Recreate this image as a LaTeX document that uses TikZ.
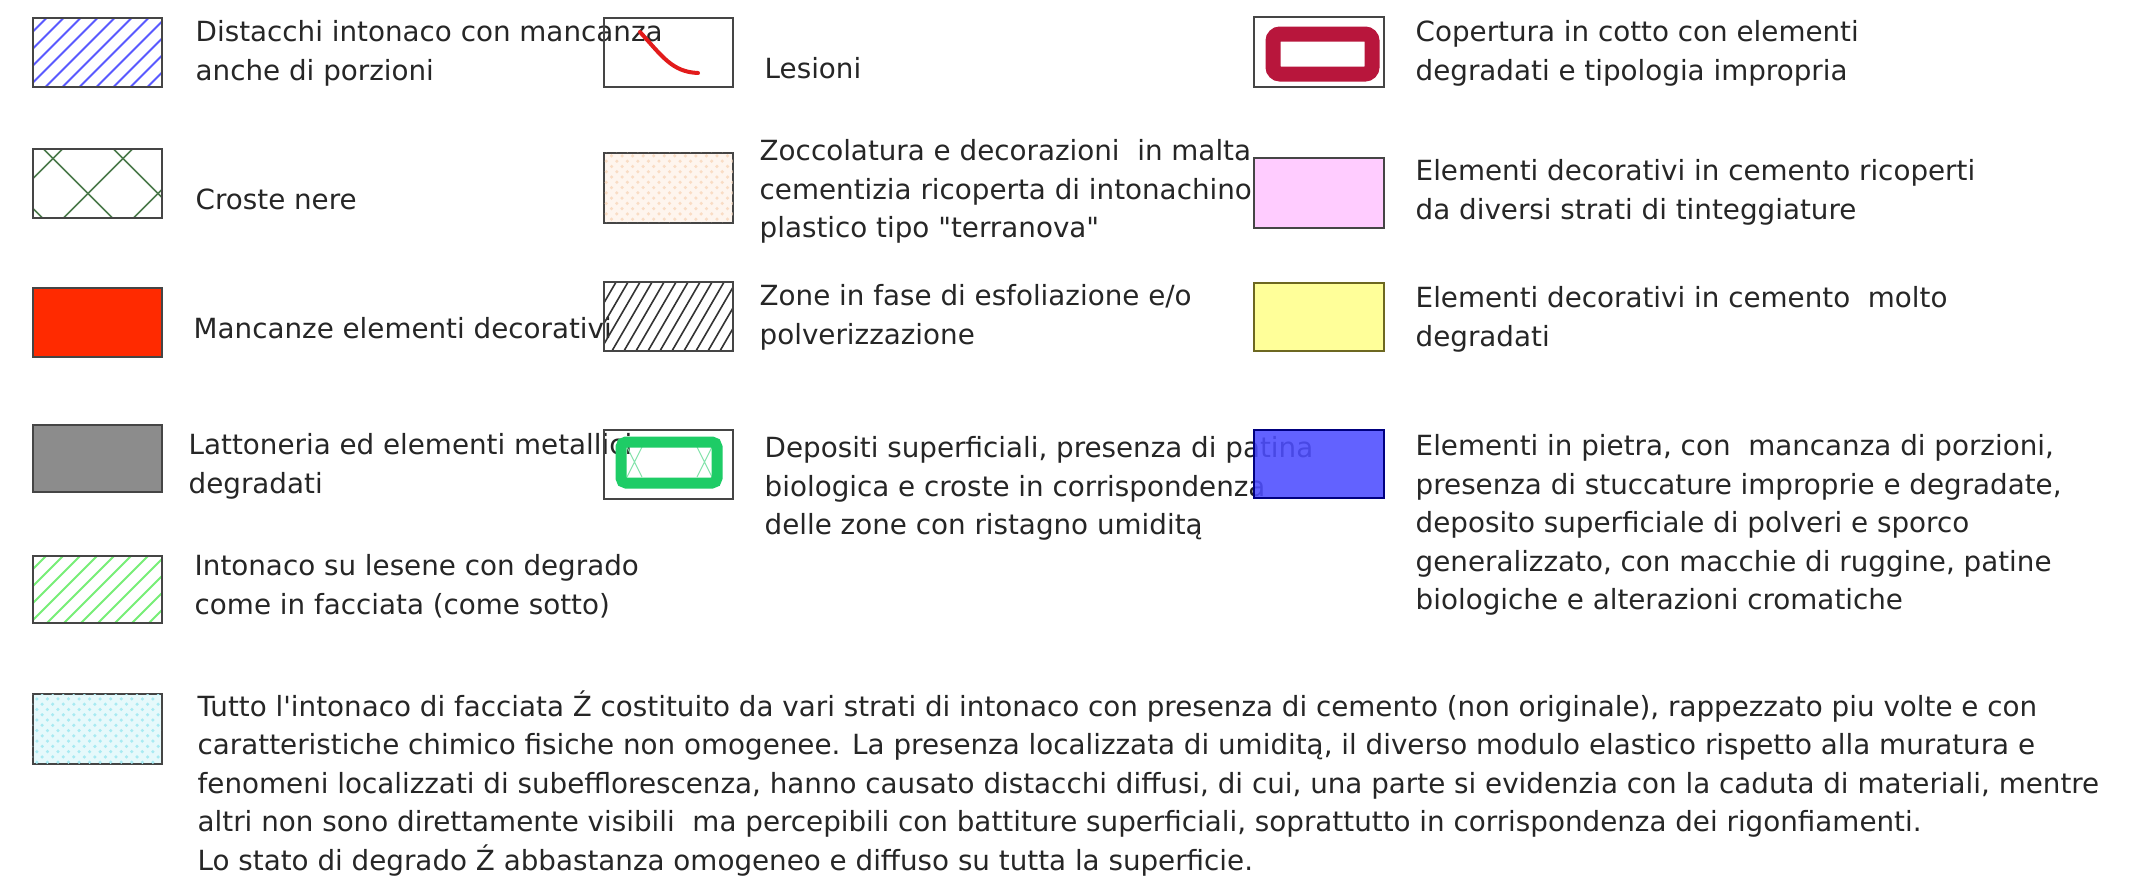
\documentclass[tikz,border=0pt]{standalone}
\usepackage{fontspec}
\setmainfont{DejaVu Sans}[Ligatures=TeXOff]
\usetikzlibrary{calc, patterns}

\definecolor{boxgray}{HTML}{454545}
\definecolor{hatchblue}{HTML}{5A5AFF}
\definecolor{crostegreen}{HTML}{4B7A4B}
\definecolor{missred}{HTML}{FF2A00}
\definecolor{metalgray}{HTML}{8C8C8C}
\definecolor{lesenegreen}{HTML}{77EE77}
\definecolor{facciatacyan}{HTML}{E6F9FB}
\definecolor{facciatadot}{HTML}{A8EAF2}
\definecolor{crackred}{HTML}{E21B1B}
\definecolor{malta}{HTML}{FEF5EE}
\definecolor{maltadot}{HTML}{F9DCC4}
\definecolor{biogreen}{HTML}{1ECC66}
\definecolor{cotto}{HTML}{B8163C}
\definecolor{tinteggio}{HTML}{FFCCFF}
\definecolor{cemento}{HTML}{FFFF99}
\definecolor{pietra}{HTML}{4D4DFF}

\begin{document}
\begin{tikzpicture}[
x = 0.1mm, y = -0.1mm, % one unit is one pixel of the sheet
every node/.style = {inner sep = 0pt},
font = \fontsize{7.9pt}{10.95pt}\selectfont
]
\tikzstyle{legbox}=[
draw = boxgray,
line width = 0.2mm,
minimum width = 12.9mm,
minimum height = 6.9mm
]
\tikzstyle{legtext}=[
anchor = north west, % placed at the top of the first line
align = left,
text = black!85
]
\tikzset{
hatch/.style 2 args = {path picture = {
  \foreach \k in {-7,...,7}
    \draw[#1, line width = 0.18mm]
      ($(path picture bounding box.center)+(\k*#2,0)+(-50,50)$) -- ++(100,-100);
}},
steephatch/.style 2 args = {path picture = {
  \foreach \k in {-9,...,9}
    \draw[#1, line width = 0.16mm]
      ($(path picture bounding box.center)+(\k*#2,0)+(-25,43)$) -- ++(50,-86);
}},
croste/.style = {path picture = {
  \foreach \q in {30,100,170}
    \draw[crostegreen, line width = 0.15mm]
      ($(path picture bounding box.north west)+(\q+10,-10)$) -- ++(-100,100);
  \foreach \q in {-60,10,80,150}
    \draw[crostegreen, line width = 0.15mm]
      ($(path picture bounding box.north west)+(\q-10,-10)$) -- ++(100,100);
}}
}

\useasboundingbox[fill = white] (0,0) rectangle (2138,894);

% labels first, the boxes of the middle and right column lie over them
\node[legtext] (t1) at (195,20) {Distacchi intonaco con mancanza\\anche di porzioni};
\node[legtext] (t2) at (195,188) {Croste nere};
\node[legtext] (t3) at (193,317) {Mancanze elementi decorativi};
\node[legtext] (t4) at (188,433) {Lattoneria ed elementi metallici\\degradati};
\node[legtext] (t5) at (194,554) {Intonaco su lesene con degrado\\come in facciata (come sotto)};
\node[legtext] (t6) at (197,690) {Tutto l'intonaco di facciata Ź costituito da vari strati di intonaco con presenza di cemento (non originale), rappezzato piu volte e con\\
caratteristiche chimico fisiche non omogenee. La presenza localizzata di umiditą, il diverso modulo elastico rispetto alla muratura e\\
fenomeni localizzati di subefflorescenza, hanno causato distacchi diffusi, di cui, una parte si evidenzia con la caduta di materiali, mentre\\
altri non sono direttamente visibili~ ma percepibili con battiture superficiali, soprattutto in corrispondenza dei rigonfiamenti.\\
Lo stato di degrado Ź abbastanza omogeneo e diffuso su tutta la superficie.};

\node[legtext] (u1) at (764,57) {Lesioni};
\node[legtext] (u2) at (759,139) {Zoccolatura e decorazioni~ in malta\\cementizia ricoperta di intonachino\\plastico tipo "terranova"};
\node[legtext] (u3) at (759,284) {Zone in fase di esfoliazione e/o\\polverizzazione};
\node[legtext] (u4) at (764,436) {Depositi superficiali, presenza di patina\\biologica e croste in corrispondenza\\delle zone con ristagno umiditą};

\node[legtext] (v1) at (1415,20) {Copertura in cotto con elementi\\degradati e tipologia impropria};
\node[legtext] (v2) at (1415,159) {Elementi decorativi in cemento ricoperti\\da diversi strati di tinteggiature};
\node[legtext] (v3) at (1415,286) {Elementi decorativi in cemento~ molto\\degradati};
\node[legtext] (v4) at (1415,434) {Elementi in pietra, con~ mancanza di porzioni,\\presenza di stuccature improprie e degradate,\\deposito superficiale di polveri e sporco\\generalizzato, con macchie di ruggine, patine\\biologiche e alterazioni cromatiche};

% left column
\node[legbox, fill = white, hatch = {hatchblue}{17}] (b1) at (97.5,52) {};
\node[legbox, fill = white, croste] (b2) at (97.5,183) {};
\node[legbox, fill = missred] (b3) at (97.5,322.5) {};
\node[legbox, fill = metalgray, minimum height = 6.7mm] (b4) at (97.5,458.5) {};
\node[legbox, fill = white, hatch = {lesenegreen}{17}, minimum height = 6.7mm] (b5) at (97.5,589.5) {};
\node[legbox, fill = facciatacyan, minimum height = 7mm,
  postaction = {pattern = crosshatch dots, pattern color = facciatadot}] (b6) at (97,729) {};

% middle column
\node[legbox] (c1) at (668,52) {};
\draw[crackred, line width = 0.4mm, line cap = round]
  (640,32) .. controls (662,56) and (672,72) .. (698,73);
\node[legbox, fill = malta, minimum height = 7mm,
  postaction = {pattern = crosshatch dots, pattern color = maltadot}] (c2) at (668,187.5) {};
\node[legbox, steephatch = {black!80}{12}] (c3) at (668,316.5) {};
\node[legbox] (c4) at (668,464) {};
\draw[biogreen!55, line width = 0.1mm] (627,447) -- (642,477) (627,477) -- (642,447)
  (697,447) -- (712,477) (697,477) -- (712,447);
\draw[biogreen, line width = 1.1mm, rounded corners = 0.5mm] (621,442) rectangle (717,483);

% right column
\node[legbox, fill = white, minimum width = 13mm, minimum height = 7mm] (d1) at (1319,52) {};
\draw[cotto, line width = 1.5mm, rounded corners = 0.7mm] (1273,34) rectangle (1372,74);
\node[legbox, fill = tinteggio, minimum width = 13mm, minimum height = 7mm] (d2) at (1319,193) {};
\node[legbox, draw = olive!70!black, fill = cemento, minimum width = 13mm, minimum height = 6.8mm] (d3) at (1319,317) {};
\node[legbox, draw = blue!50!black, fill = pietra, fill opacity = 0.88, minimum width = 13mm, minimum height = 6.8mm] (d4) at (1319,464) {};
\end{tikzpicture}
\end{document}
